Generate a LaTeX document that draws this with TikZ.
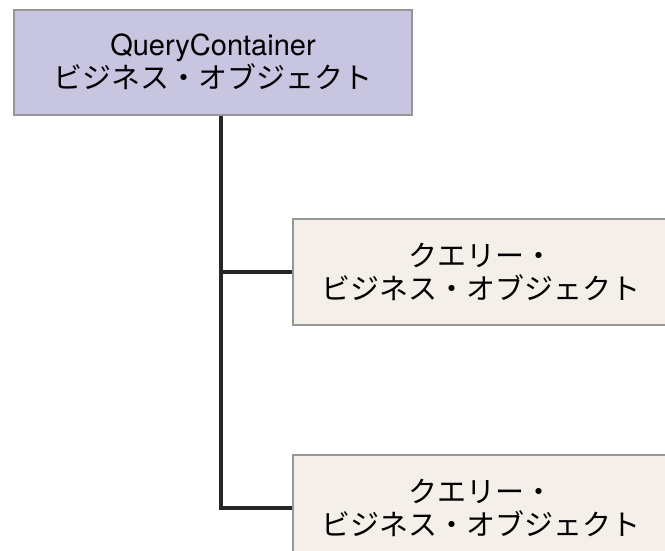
\documentclass[tikz,border=0pt]{standalone}
\usepackage{fontspec}
\setmainfont{TeX Gyre Heros}
\newfontfamily\jp{Noto Sans CJK JP}
\usetikzlibrary{positioning}

\definecolor{containerfill}{RGB}{200,197,225}
\definecolor{queryfill}{RGB}{245,239,234}
\definecolor{boxline}{RGB}{150,150,150}

\begin{document}
\begin{tikzpicture}[x=1pt, y=-1pt,
    bobox/.style={draw=boxline, line width=2pt, align=center, inner sep=0pt,
      font=\fontsize{29}{33}\selectfont},
    link/.style={line width=3.8pt, draw=black!85}]

    \useasboundingbox (0, 0) rectangle (665, 550);
    \clip (0, 0) rectangle (665, 550);

    \node [bobox, fill=containerfill, minimum width=398pt, minimum height=105pt]
      (container) at (213, 62) {QueryContainer\\{\jp ビジネス・オブジェクト}};

    \node [bobox, fill=queryfill, minimum width=376pt, minimum height=106pt]
      (query1) at (481, 272) {{\jp クエリー・}\\{\jp ビジネス・オブジェクト}};
    \node [bobox, fill=queryfill, minimum width=376pt, minimum height=106pt]
      (query2) at (481, 508) {{\jp クエリー・}\\{\jp ビジネス・オブジェクト}};

    \coordinate (trunk) at (221, 0);

    \draw [link] (container.south -| trunk) |- (query1.west);
    \draw [link] (container.south -| trunk) |- (query2.west);

\end{tikzpicture}
\end{document}
